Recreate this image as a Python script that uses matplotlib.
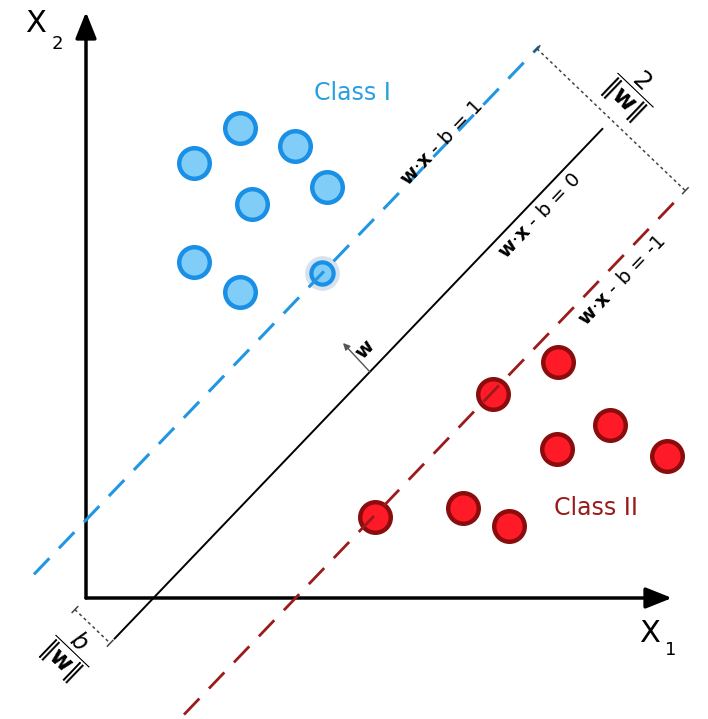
import numpy as np
import matplotlib
matplotlib.use('Agg')
import matplotlib.pyplot as plt

plt.rcParams['font.family'] = ['DejaVu Sans']
plt.rcParams['mathtext.fontset'] = 'dejavusans'
plt.rcParams['lines.scale_dashes'] = False

# ---------------- data (feature space units) ----------------
class1_x = [154, 209, 108, 241, 166, 108, 154]
class1_y = [470, 452, 435, 411, 394, 336, 306]
sv1_x = [236]
sv1_y = [325]
class2_x = [472, 524, 471, 581, 377, 423]
class2_y = [236, 173, 149, 142, 90, 72]
sv2_x = [407, 289]
sv2_y = [204, 81]

slope = 1.045
offsets = [78.0, -70.5, -219.0]          # w.x - b = 1, 0, -1
x_from = [-52, 28, 98]
x_to = [453, 517, 597]
hyper_labels = [r'$\mathbf{w}$·$\mathbf{x}$ - b = 1',
                r'$\mathbf{w}$·$\mathbf{x}$ - b = 0',
                r'$\mathbf{w}$·$\mathbf{x}$ - b = -1']
label_pos = [(356, 455), (454, 382), (536, 317)]

BLUE_EDGE = '#1a8fe6'
BLUE_FILL = '#80cdf7'
RED_EDGE = '#8b0c0c'
RED_FILL = '#ff1a28'
DARK_RED = '#9b1b1b'

fig = plt.figure(figsize=(7.08, 7.19), dpi=100)
ax = fig.add_axes([0, 0, 1, 1])
ax.set_xlim(-86, 622)
ax.set_ylim(-121, 598)
ax.axis('off')

# axes arrows
ax.annotate('', xy=(0, 586), xytext=(0, 0),
            arrowprops=dict(arrowstyle='-|>,head_length=0.4,head_width=0.16',
                            lw=2.5, color='black', mutation_scale=40,
                            shrinkA=0, shrinkB=0))
ax.annotate('', xy=(586, 0), xytext=(0, 0),
            arrowprops=dict(arrowstyle='-|>,head_length=0.4,head_width=0.16',
                            lw=2.5, color='black', mutation_scale=40,
                            shrinkA=0, shrinkB=0))
ax.text(-50, 574, 'X', fontsize=22, ha='center', va='center')
ax.text(-29, 554, '2', fontsize=13, ha='center', va='center')
ax.text(564, -36, 'X', fontsize=22, ha='center', va='center')
ax.text(585, -52, '1', fontsize=13, ha='center', va='center')

# points
ax.plot(class1_x, class1_y, 'o', ms=22, mfc=BLUE_FILL, mec=BLUE_EDGE, mew=3.2, zorder=2)
ax.plot(sv1_x, sv1_y, 'o', ms=25, mfc='#d8e2ee', mec='none', zorder=2)
ax.plot(sv1_x, sv1_y, 'o', ms=16, mfc=BLUE_FILL, mec=BLUE_EDGE, mew=3.0, zorder=2)
ax.plot(class2_x, class2_y, 'o', ms=22, mfc=RED_FILL, mec=RED_EDGE, mew=3.2, zorder=2)
ax.plot(sv2_x, sv2_y, 'o', ms=22, mfc=RED_FILL, mec=RED_EDGE, mew=3.2, zorder=2)

# hyperplanes
styles = [dict(color='#2196e3', lw=2.2, dashes=(16, 10)),
          dict(color='black', lw=1.4),
          dict(color=DARK_RED, lw=2.0, dashes=(16, 10))]
ang = np.degrees(np.arctan(slope))
for c, x0, x1, st, lab, (tx, ty) in zip(offsets, x_from, x_to, styles, hyper_labels, label_pos):
    xs = np.array([x0, x1])
    ax.plot(xs, slope * xs + c, zorder=3, solid_capstyle='butt', **st)
    ax.text(tx, ty, lab, fontsize=14, rotation=ang, rotation_mode='anchor',
            ha='center', va='center', zorder=4)

# margin dimension lines
d = np.array([1.0, slope]) / np.hypot(1, slope)      # along hyperplane
n = np.array([1.0, -1.0 / slope]); n /= np.hypot(*n)  # normal (down-right)

def dim_line(p, length):
    p = np.array(p, float)
    q = p + n * length
    ax.plot([p[0], q[0]], [p[1], q[1]], color='#444444', lw=1.1,
            linestyle=(0, (2.2, 2.2)), zorder=3)
    for e in (p, q):
        a, b = e - d * 4, e + d * 4
        ax.plot([a[0], b[0]], [a[1], b[1]], color='#444444', lw=1.1, zorder=3)
    return p, q

p_top = np.array([451.0, slope * 451 + offsets[0]])
dim_line(p_top, (offsets[0] - offsets[2]) * np.cos(np.arctan(slope)))
p_bot = -d * 16
dim_line(p_bot, (0 - offsets[1]) * np.cos(np.arctan(slope)))

rot_n = np.degrees(np.arctan2(n[1], n[0]))
ax.text(546, 506, r'$\dfrac{2}{\|\mathbf{w}\|}$', fontsize=18, rotation=rot_n,
        rotation_mode='anchor', ha='center', va='center')
ax.text(-17, -54, r'$\dfrac{b}{\|\mathbf{w}\|}$', fontsize=17, rotation=rot_n,
        rotation_mode='anchor', ha='center', va='center')

# normal vector w
ax.annotate('', xy=(257, 255), xytext=(284, 226),
            arrowprops=dict(arrowstyle='-|>,head_length=0.5,head_width=0.25',
                            lw=1.0, color='#555555', mutation_scale=8,
                            shrinkA=0, shrinkB=0))
ax.text(279, 248, r'$\mathbf{w}$', fontsize=14, rotation=ang, rotation_mode='anchor',
        ha='center', va='center')

# class labels
ax.text(266, 505, 'Class I', fontsize=17, color='#2a9fe0', ha='center', va='center')
ax.text(510, 90, 'Class II', fontsize=17, color=DARK_RED, ha='center', va='center')

fig.savefig('out.png', dpi=100)
